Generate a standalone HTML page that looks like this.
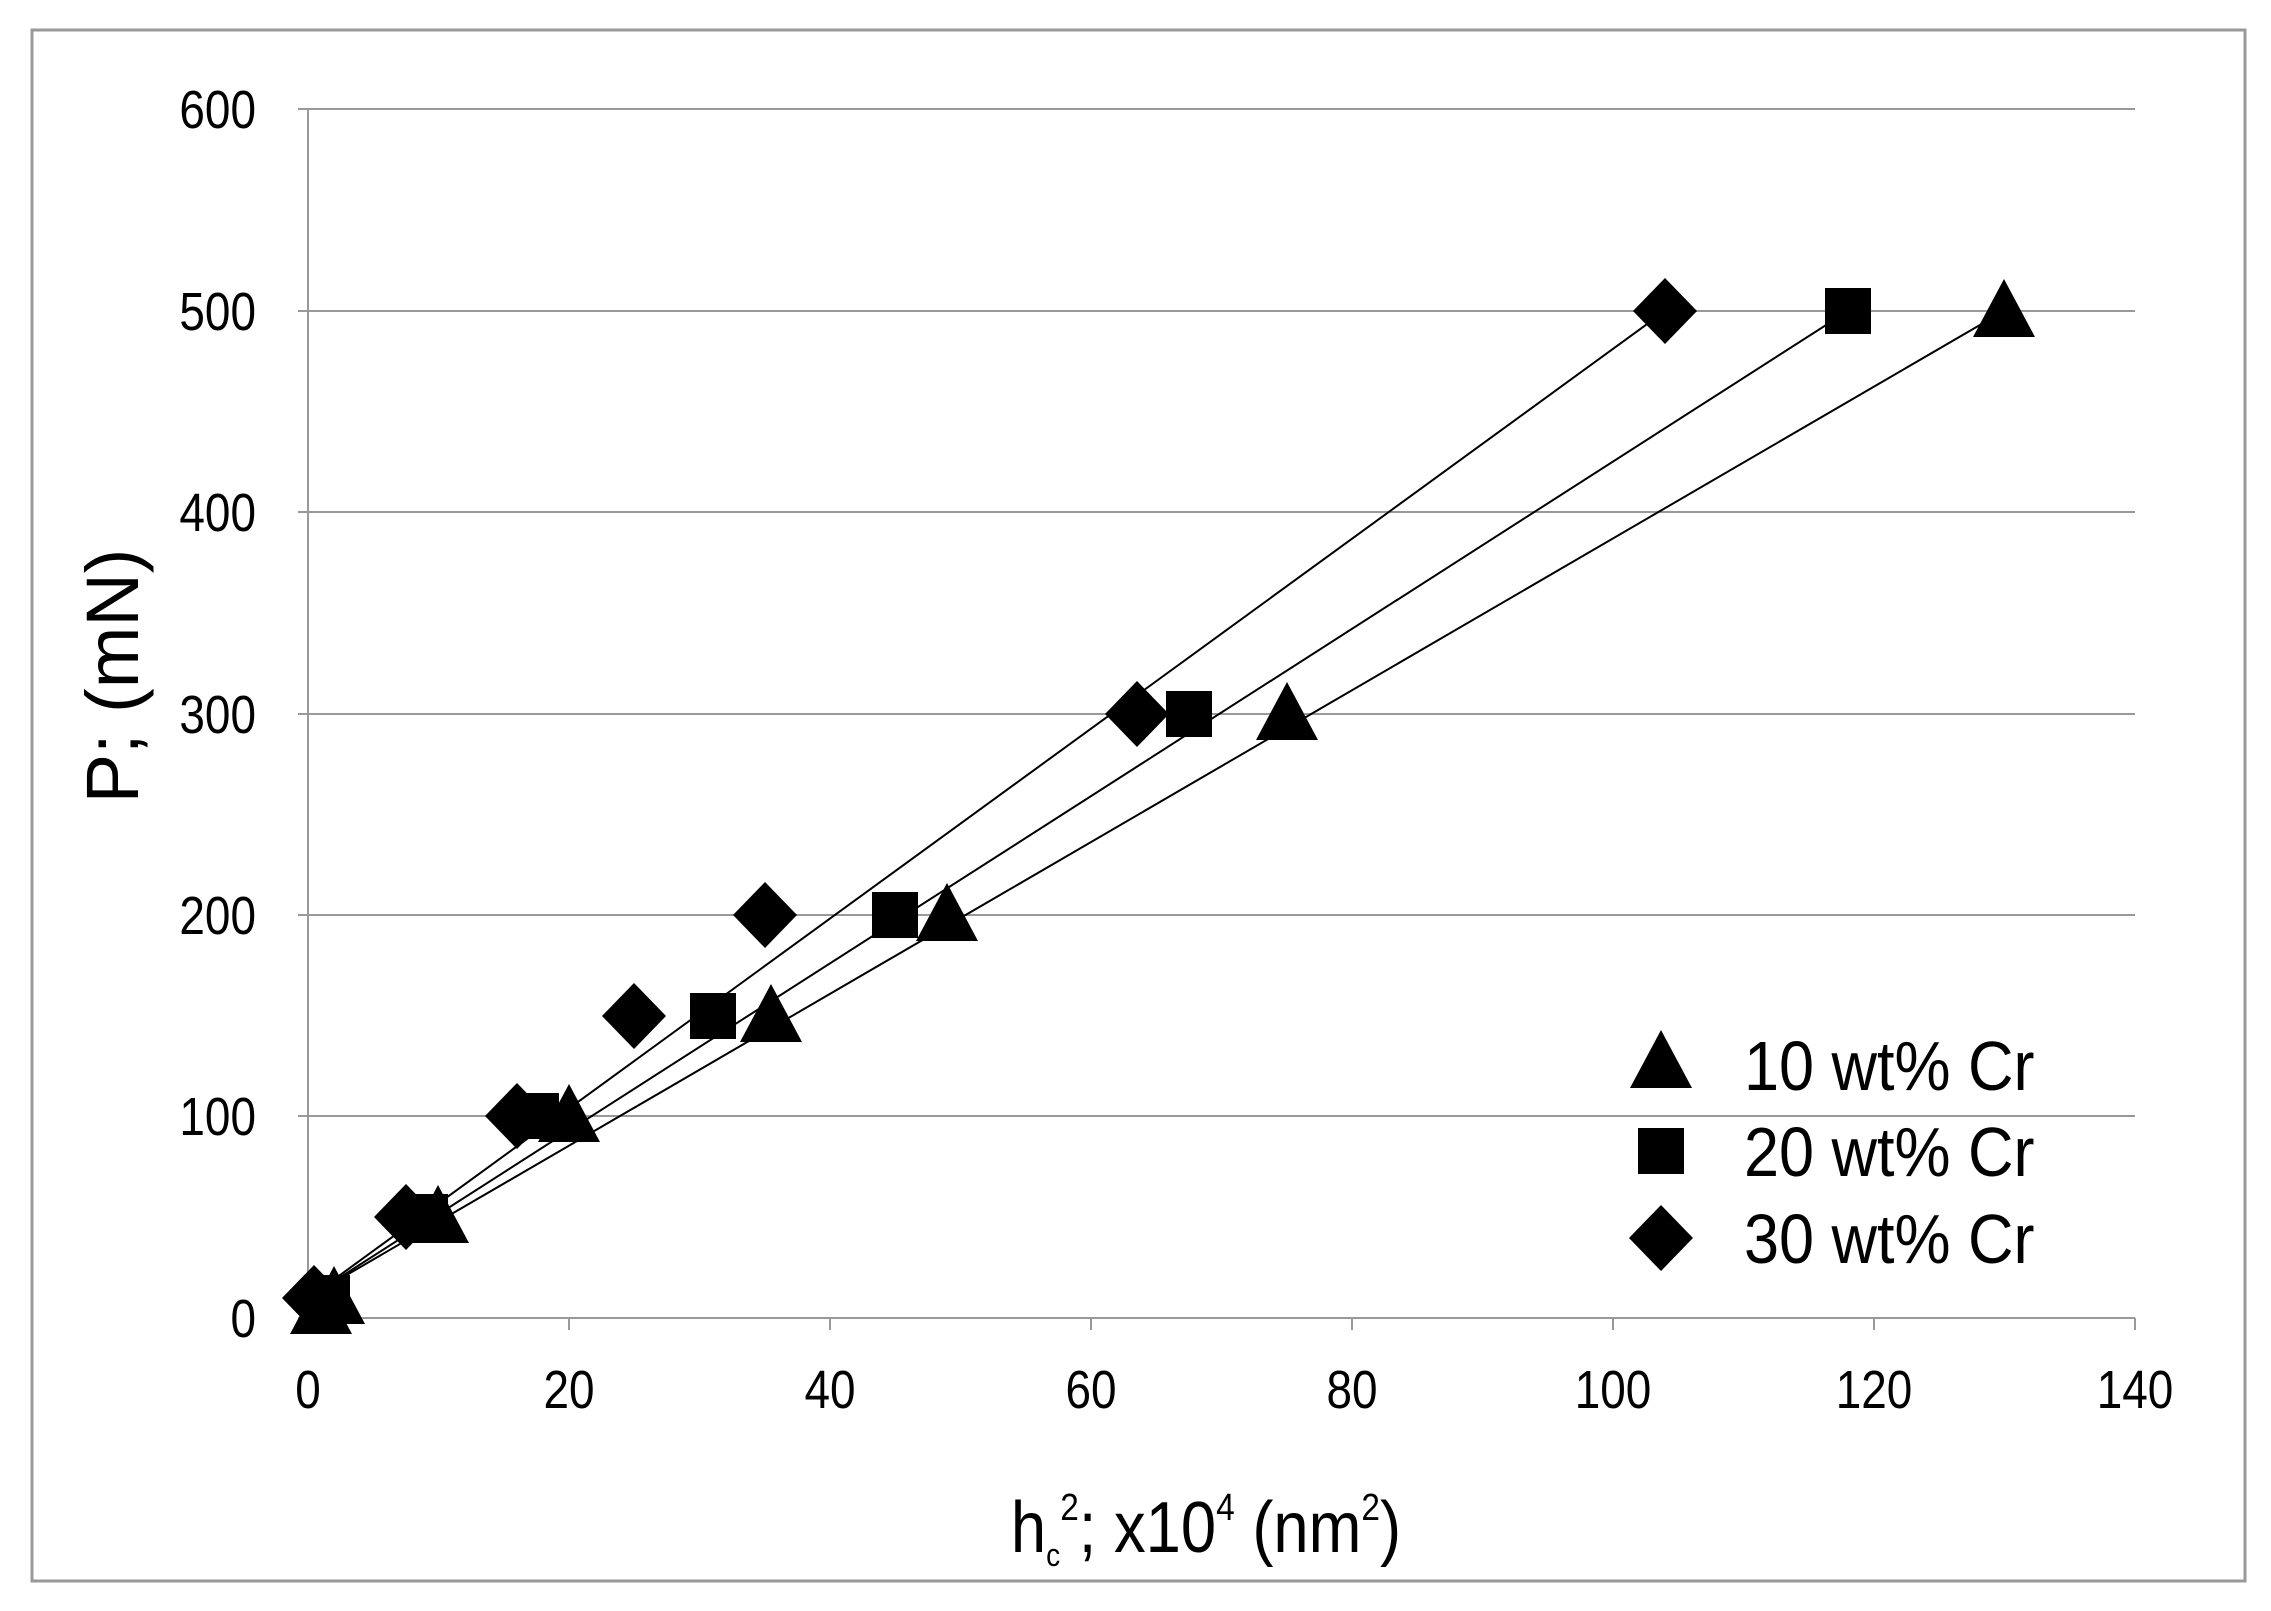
<!DOCTYPE html>
<html><head><meta charset="utf-8"><style>
html,body{margin:0;padding:0;background:#fff}
svg{display:block}
text{font-family:"Liberation Sans",sans-serif;fill:#000}
</style></head><body>
<svg width="2271" height="1611" viewBox="0 0 2271 1611" xmlns="http://www.w3.org/2000/svg">
<defs>
<polygon id="tri" points="0,-32 31,26 -31,26" fill="#000"/>
<rect id="sq" x="-23" y="-23" width="46" height="46" fill="#000"/>
<polygon id="dia" points="0,-33 32,0 0,33 -32,0" fill="#000"/>
</defs>
<rect x="32" y="30" width="2213" height="1551" fill="#fff" stroke="#999" stroke-width="3"/>
<g stroke="#999" stroke-width="2">
<line x1="298" y1="109" x2="2135" y2="109"/>
<line x1="298" y1="311" x2="2135" y2="311"/>
<line x1="298" y1="512" x2="2135" y2="512"/>
<line x1="298" y1="714" x2="2135" y2="714"/>
<line x1="298" y1="915" x2="2135" y2="915"/>
<line x1="298" y1="1116" x2="2135" y2="1116"/>
<line x1="298" y1="1318" x2="2135" y2="1318"/>
<line x1="308" y1="109" x2="308" y2="1318"/>
<line x1="308" y1="1318" x2="308" y2="1330"/>
<line x1="569" y1="1318" x2="569" y2="1330"/>
<line x1="830" y1="1318" x2="830" y2="1330"/>
<line x1="1091" y1="1318" x2="1091" y2="1330"/>
<line x1="1352" y1="1318" x2="1352" y2="1330"/>
<line x1="1613" y1="1318" x2="1613" y2="1330"/>
<line x1="1874" y1="1318" x2="1874" y2="1330"/>
<line x1="2135" y1="1318" x2="2135" y2="1330"/>
</g>
<g font-size="54" text-anchor="end" transform="translate(256,0) scale(0.85,1) translate(-256,0)">
<text x="256" y="128">600</text>
<text x="256" y="330">500</text>
<text x="256" y="531">400</text>
<text x="256" y="733">300</text>
<text x="256" y="934">200</text>
<text x="256" y="1135">100</text>
<text x="256" y="1337">0</text>
</g>
<g font-size="54" text-anchor="middle">
<text x="308" y="1408" transform="translate(308,0) scale(0.85,1) translate(-308,0)">0</text>
<text x="569" y="1408" transform="translate(569,0) scale(0.85,1) translate(-569,0)">20</text>
<text x="830" y="1408" transform="translate(830,0) scale(0.85,1) translate(-830,0)">40</text>
<text x="1091" y="1408" transform="translate(1091,0) scale(0.85,1) translate(-1091,0)">60</text>
<text x="1352" y="1408" transform="translate(1352,0) scale(0.85,1) translate(-1352,0)">80</text>
<text x="1613" y="1408" transform="translate(1613,0) scale(0.85,1) translate(-1613,0)">100</text>
<text x="1874" y="1408" transform="translate(1874,0) scale(0.85,1) translate(-1874,0)">120</text>
<text x="2135" y="1408" transform="translate(2135,0) scale(0.85,1) translate(-2135,0)">140</text>
</g>
<text x="1206" y="1552" font-size="72" text-anchor="middle" transform="translate(1206,0) scale(0.88,1) translate(-1206,0)">h<tspan font-size="32" dy="14">c</tspan><tspan font-size="38" dy="-46">2</tspan><tspan dy="32">; x10</tspan><tspan font-size="38" dy="-32">4</tspan><tspan dy="32"> (nm</tspan><tspan font-size="38" dy="-32">2</tspan><tspan dy="32">)</tspan></text>
<text transform="translate(138,676) rotate(-90)" font-size="74" text-anchor="middle">P; (mN)</text>
<g stroke="#000" stroke-width="2">
<line x1="314" y1="1294" x2="2004" y2="311"/>
<line x1="314" y1="1294" x2="1848" y2="311"/>
<line x1="314" y1="1294" x2="1665" y2="311"/>
</g>
<g>
<use href="#tri" x="321" y="1308"/><use href="#tri" x="334" y="1298"/><use href="#tri" x="438" y="1217"/><use href="#tri" x="569" y="1116"/><use href="#tri" x="771" y="1016"/><use href="#tri" x="947" y="915"/><use href="#tri" x="1287" y="714"/><use href="#tri" x="2004" y="311"/>
<use href="#sq" x="327" y="1298"/><use href="#sq" x="425" y="1217"/><use href="#sq" x="536" y="1116"/><use href="#sq" x="713" y="1016"/><use href="#sq" x="895" y="915"/><use href="#sq" x="1189" y="714"/><use href="#sq" x="1848" y="311"/>
<use href="#dia" x="314" y="1298"/><use href="#dia" x="406" y="1217"/><use href="#dia" x="517" y="1116"/><use href="#dia" x="634" y="1016"/><use href="#dia" x="765" y="915"/><use href="#dia" x="1137" y="714"/><use href="#dia" x="1665" y="311"/>
</g>
<use href="#tri" x="1661" y="1062"/>
<use href="#sq" x="1661" y="1151"/>
<use href="#dia" x="1661" y="1238"/>
<g font-size="70" transform="translate(1744,0) scale(0.9,1) translate(-1744,0)">
<text x="1744" y="1090">10 wt% Cr</text>
<text x="1744" y="1176">20 wt% Cr</text>
<text x="1744" y="1263">30 wt% Cr</text>
</g>
</svg>
</body></html>
